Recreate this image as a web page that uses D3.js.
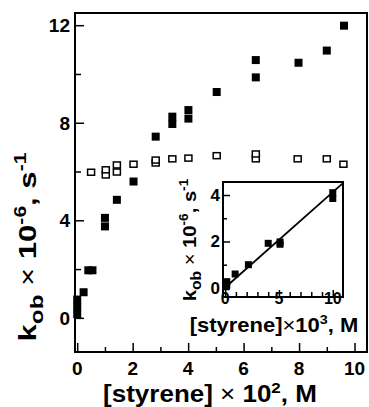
<!DOCTYPE html>
<html>
<head>
<meta charset="utf-8">
<script src="https://cdn.jsdelivr.net/npm/d3@7"></script>
<style>
body { margin: 0; background: #fff; }
svg { display: block; font-family: "Liberation Sans", Arial, sans-serif; font-weight: bold; }
</style>
</head>
<body>
<div id="chart"></div>
<script>
// main panel: [styrene] x 10^2 M vs k_ob x 10^-6 s^-1
var filledX = [0, 0, 0, 0.23, 0.4, 0.55, 1.0, 1.0, 1.43, 2.03, 2.83, 3.43, 3.43, 4.01, 4.01, 5.03, 6.44, 6.44, 7.98, 9.0, 9.62];
var filledY = [0.15, 0.45, 0.75, 1.05, 1.95, 1.95, 3.75, 4.1, 4.84, 5.59, 7.43, 7.95, 8.25, 8.17, 8.52, 9.26, 9.86, 10.57, 10.46, 10.96, 11.98];
var openX = [0.5, 1.03, 1.03, 1.43, 1.43, 2.03, 2.83, 2.83, 3.43, 4.01, 5.03, 6.44, 6.44, 7.95, 9.0, 9.6];
var openY = [5.97, 5.86, 6.07, 5.98, 6.27, 6.3, 6.35, 6.47, 6.52, 6.55, 6.65, 6.52, 6.72, 6.52, 6.52, 6.3];
var xTicks = [0, 2, 4, 6, 8, 10];
var yTicks = [0, 4, 8, 12];

// inset: [styrene] x 10^3 M
var insetX = [0.1, 0.15, 0.15, 0.93, 2.16, 4.0, 5.1, 5.1, 10.0, 10.0];
var insetY = [0.05, 0.13, 0.27, 0.6, 1.0, 1.92, 1.88, 1.98, 3.85, 4.1];
var fitX = [0, 11];
var fitY = [0.02, 4.53];
var insetXTicks = [0, 5, 10];
var insetYTicks = [0, 2, 4];

var W = 369, H = 407;
var svg = d3.select("#chart").append("svg")
	.attr("width", W)
	.attr("height", H);

// main frame
var L = 75, T = 13, R = 367, B = 352;
var x = d3.scaleLinear().domain([-0.08, 10.45]).range([L, R]);
var y = d3.scaleLinear().domain([-1.4, 12.5]).range([B, T]);

svg.append("rect")
	.attr("x", L).attr("y", T)
	.attr("width", R-L).attr("height", B-T)
	.attr("fill", "none").attr("stroke", "black").attr("stroke-width", 2);

var xAxis = svg.append("g")
	.attr("transform", "translate(0,"+B+")")
	.call(d3.axisBottom(x).tickValues(d3.range(0, 11, 1)).tickSize(-7).tickFormat(""));
xAxis.selectAll(".tick line").attr("stroke-width", 1.5)
	.attr("y2", function(d){ return d%2==0 ? -9 : -5; });
xAxis.select(".domain").remove();

var yAxis = svg.append("g")
	.attr("transform", "translate("+L+",0)")
	.call(d3.axisLeft(y).tickValues(d3.range(0, 13, 2)).tickSize(-8).tickFormat(""));
yAxis.selectAll(".tick line").attr("stroke-width", 1.5)
	.attr("x2", function(d){ return d%4==0 ? 9 : 6; });
yAxis.select(".domain").remove();

svg.selectAll(".xlab").data(xTicks).enter().append("text")
	.attr("x", function(d){ return x(d); })
	.attr("y", 375)
	.attr("text-anchor", "middle")
	.attr("font-size", 19)
	.text(function(d){ return d; });

svg.selectAll(".ylab").data(yTicks).enter().append("text")
	.attr("x", 70)
	.attr("y", function(d){ return y(d)+7; })
	.attr("text-anchor", "end")
	.attr("font-size", 19)
	.text(function(d){ return d; });

// axis titles (the original lettering is stretched sideways)
var xt = svg.append("g").attr("transform", "translate(210,402) scale(1.13,1)")
	.append("text")
	.attr("text-anchor", "middle")
	.attr("font-size", 23);
xt.append("tspan").text("[styrene] ");
xt.append("tspan").attr("font-weight", "normal").text("\u00d7");
xt.append("tspan").text(" 10");
xt.append("tspan").attr("font-size", 15).attr("dy", -9).text("2");
xt.append("tspan").attr("dy", 9).text(", M");

function kobLabel(g, fs) {
	var t = g.append("text").attr("text-anchor", "middle").attr("font-size", fs);
	t.append("tspan").text("k");
	t.append("tspan").attr("font-size", fs*0.78).attr("dy", fs*0.3).text("ob");
	t.append("tspan").attr("font-weight", "normal").attr("dy", -fs*0.3).text(" \u00d7 ");
	t.append("tspan").text("10");
	t.append("tspan").attr("font-size", fs*0.68).attr("dy", -fs*0.42).text("-6");
	t.append("tspan").attr("dy", fs*0.42).text(", s");
	t.append("tspan").attr("font-size", fs*0.68).attr("dy", -fs*0.42).text("-1");
	return t;
}
kobLabel(svg.append("g").attr("transform", "translate(36,247) rotate(-90) scale(1.35,1)"), 23);

// main data
svg.selectAll(".filled").data(filledX).enter().append("rect")
	.attr("x", function(d){ return x(d)-4; })
	.attr("y", function(d, i){ return y(filledY[i])-4; })
	.attr("width", 8).attr("height", 8)
	.attr("fill", "black");

svg.selectAll(".open").data(openX).enter().append("rect")
	.attr("x", function(d){ return x(d)-3.5; })
	.attr("y", function(d, i){ return y(openY[i])-3; })
	.attr("width", 7).attr("height", 6)
	.attr("fill", "white").attr("stroke", "black").attr("stroke-width", 1.5);

// inset
var iL = 223, iT = 182, iR = 343, iB = 297;
var ix = d3.scaleLinear().domain([-0.2, 10.95]).range([iL, iR]);
var iy = d3.scaleLinear().domain([-0.39, 4.56]).range([iB, iT]);

svg.append("rect")
	.attr("x", iL).attr("y", iT)
	.attr("width", iR-iL).attr("height", iB-iT)
	.attr("fill", "white").attr("stroke", "black").attr("stroke-width", 2);

var ixAxis = svg.append("g")
	.attr("transform", "translate(0,"+iB+")")
	.call(d3.axisBottom(ix).tickValues(d3.range(0, 11, 1)).tickSize(-5).tickFormat(""));
ixAxis.selectAll(".tick line").attr("stroke-width", 1.5)
	.attr("y2", function(d){ return d%5==0 ? -7 : -5; });
ixAxis.select(".domain").remove();

var iyAxis = svg.append("g")
	.attr("transform", "translate("+iL+",0)")
	.call(d3.axisLeft(iy).tickValues([0, 1, 2, 3, 4]).tickSize(-5).tickFormat(""));
iyAxis.selectAll(".tick line").attr("stroke-width", 1.5)
	.attr("x2", function(d){ return d%2==0 ? 7 : 4; });
iyAxis.select(".domain").remove();

svg.selectAll(".ixlab").data(insetXTicks).enter().append("text")
	.attr("x", function(d){ return ix(d); })
	.attr("y", 304)
	.attr("text-anchor", "middle")
	.attr("font-size", 16)
	.text(function(d){ return d; });

svg.selectAll(".iylab").data(insetYTicks).enter().append("text")
	.attr("x", 220)
	.attr("y", function(d){ return iy(d)+6; })
	.attr("text-anchor", "end")
	.attr("font-size", 17)
	.text(function(d){ return d; });

var ixt = svg.append("g").attr("transform", "translate(274,332) scale(1.1,1)")
	.append("text")
	.attr("text-anchor", "middle")
	.attr("font-size", 20);
ixt.append("tspan").text("[styrene]");
ixt.append("tspan").attr("font-weight", "normal").text("\u00d7");
ixt.append("tspan").text("10");
ixt.append("tspan").attr("font-size", 13).attr("dy", -8).text("3");
ixt.append("tspan").attr("dy", 8).text(", M");

kobLabel(svg.append("g").attr("transform", "translate(196,240) rotate(-90) scale(1.12,1)"), 18);

svg.append("line")
	.attr("x1", ix(fitX[0])).attr("y1", iy(fitY[0]))
	.attr("x2", ix(fitX[1])).attr("y2", iy(fitY[1]))
	.attr("stroke", "black").attr("stroke-width", 1.8);

svg.selectAll(".ifilled").data(insetX).enter().append("rect")
	.attr("x", function(d){ return ix(d)-3.5; })
	.attr("y", function(d, i){ return iy(insetY[i])-3.5; })
	.attr("width", 7).attr("height", 7)
	.attr("fill", "black");
</script>
</body>
</html>
